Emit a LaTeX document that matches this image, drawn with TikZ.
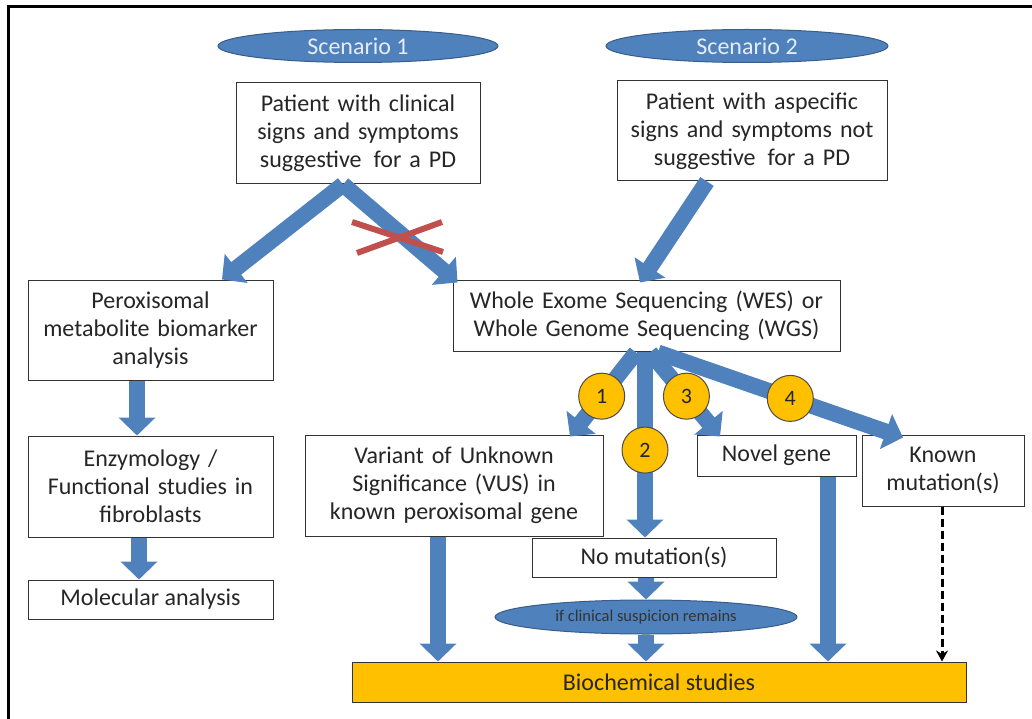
\documentclass[tikz,border=0pt]{standalone}
\usepackage{fontspec}
\setmainfont{Carlito}
\usetikzlibrary{arrows.meta,shapes.geometric}
\definecolor{arrowblue}{HTML}{4F81BD}
\definecolor{edgeblue}{HTML}{385D8A}
\definecolor{crossred}{HTML}{C0504D}
\definecolor{gold}{HTML}{FFC000}
\definecolor{scentext}{HTML}{E6ECF5}
\tikzset{
  box/.style={draw=black!80, line width=1pt, fill=white, align=center, inner sep=0pt,
    text=black!85, font=\fontsize{24}{28}\selectfont},
  scen/.style={ellipse, draw=edgeblue, line width=1pt, fill=arrowblue, text=scentext,
    inner sep=0pt, font=\fontsize{24}{26}\selectfont},
  fat/.style={draw=arrowblue, line width=16pt, -{Triangle[width=36pt,length=18pt]}},
  num/.style={circle, draw=black!70, line width=1pt, fill=gold, minimum size=46pt,
    inner sep=0pt, text=black!85, font=\fontsize{22}{22}\selectfont},
}
\begin{document}
\begin{tikzpicture}[x=1pt,y=-1pt]
  \useasboundingbox (0,0) rectangle (1032,719);
  \draw[line width=3pt] (8,719) |- (1032,7);

  % scenarios
  \node[scen, minimum width=280pt, minimum height=33pt] (scenone) at (358,46) {Scenario 1};
  \node[scen, minimum width=282pt, minimum height=33pt] (scentwo) at (747,46) {Scenario 2};

  % boxes
  \node[box, minimum width=244pt, minimum height=101pt, text width=238pt] (patone) at (358,133.5)
    {Patient with clinical\\signs and symptoms\\suggestive\, for a PD};
  \node[box, minimum width=270pt, minimum height=100pt, text width=264pt] (pattwo) at (752,131)
    {Patient with aspecific\\signs and symptoms not\\suggestive\, for a PD};
  \node[box, minimum width=245pt, minimum height=100pt, text width=239pt] (perox) at (150.5,330)
    {Peroxisomal\\metabolite biomarker\\analysis};
  \node[box, minimum width=387pt, minimum height=71pt, text width=381pt] (wes) at (646.5,315.5)
    {Whole Exome Sequencing (WES) or\\Whole Genome Sequencing (WGS)};
  \node[box, minimum width=245pt, minimum height=101pt, text width=239pt] (enzym) at (150.5,486.5)
    {Enzymology /\\Functional studies in\\fibroblasts};
  \node[box, minimum width=245pt, minimum height=39pt] (molec) at (150.5,599.5) {Molecular analysis};
  \node[box, minimum width=298pt, minimum height=101pt, text width=292pt] (vus) at (454,485.5)
    {Variant of Unknown\\Significance (VUS) in\\known peroxisomal gene};
  \node[box, minimum width=244pt, minimum height=39pt] (nomut) at (654,557.5) {No mutation(s)};
  \node[box, minimum width=159pt, minimum height=41pt] (novel) at (776.5,455.5) {Novel gene};
  \node[box, minimum width=162pt, minimum height=71pt, text width=156pt] (known) at (943,470.5)
    {Known\\mutation(s)};
  \node[scen, minimum width=302pt, minimum height=34pt, text=black!80,
    font=\fontsize{16.5}{18}\selectfont] (cond) at (646,617) {if clinical suspicion remains};
  \node[box, fill=gold, minimum width=614pt, minimum height=40pt] (bio) at (659,682) {Biochemical studies};

  % arrows
  \draw[fat] ([xshift=-15pt]patone.south) -- ([xshift=71.5pt]perox.north);
  \draw[fat] ([xshift=-15pt]patone.south) -- ([xshift=5pt,yshift=-3pt]wes.north west);
  \draw[crossred, line width=6pt] (352,222) -- (443,252);
  \draw[crossred, line width=6pt] (357,253) -- (442,222);
  \draw[fat] ([xshift=-45pt]pattwo.south) -- ([xshift=-6.5pt,yshift=-3pt]wes.north);

  \draw[fat] ([xshift=-13.5pt]perox.south) -- ([xshift=-13.5pt]enzym.north);
  \draw[fat] ([xshift=-11.5pt]enzym.south) -- ([xshift=-11.5pt]molec.north);

  \draw[fat] ([xshift=-10.5pt,yshift=-1pt]wes.south) -- ([xshift=116pt,yshift=-2pt]vus.north)
    node[num, pos=.52] {1};
  \draw[fat] ([xshift=-1.5pt]wes.south) -- ([xshift=-1.5pt]wes.south |- nomut.north)
    node[num, pos=.53] {2};
  \draw[fat] ([xshift=3.5pt,yshift=-1pt]wes.south) -- ([xshift=-56.5pt,yshift=-2pt]novel.north)
    node[num, pos=.52] {3};
  \draw[fat] ([xshift=11.5pt,yshift=-1pt]wes.south) -- ([xshift=-40pt,yshift=-3pt]known.north)
    node[num, pos=.54] {4};

  \draw[fat] ([xshift=-16pt]vus.south) -- ([xshift=-16pt]vus.south |- bio.north);
  \draw[fat] ([xshift=-8pt]nomut.south) -- (cond.north);
  \draw[fat] (cond.south) -- (cond.south |- bio.north);
  \draw[fat] ([xshift=51.5pt]novel.south) -- ([xshift=51.5pt]novel.south |- bio.north);
  \draw[line width=3pt, dash pattern=on 8pt off 4pt, -{Stealth[length=11pt,width=12pt]}]
    ([xshift=-1pt]known.south) -- ([xshift=-1pt]known.south |- bio.north);
\end{tikzpicture}
\end{document}
